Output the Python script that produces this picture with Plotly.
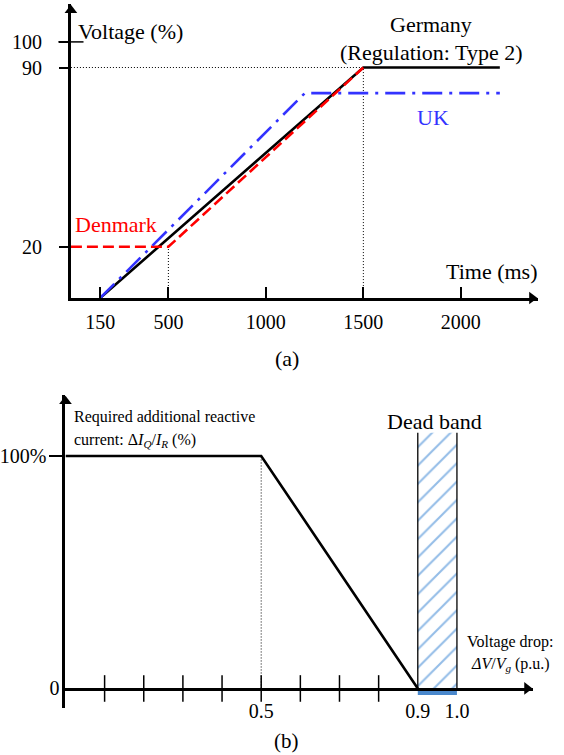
import plotly.graph_objects as go

W, H = 564, 755
FONT = "Liberation Serif"

# ---------- (a) voltage recovery profiles (time in ms, voltage in %) ----------
germany_t = [150, 1500, 2200]
germany_v = [0, 90, 90]
denmark_t = [0, 500, 1500]
denmark_v = [20, 20, 90]
uk_t = [150, 1200, 2200]
uk_v = [0, 80, 80]
time_ticks = [150, 500, 1000, 1500, 2000]
volt_ticks = [20, 90, 100]

# ---------- (b) reactive current requirement vs. voltage drop ----------
drop_pu = [0, 0.5, 0.9]
iq_pct = [100, 100, 0]
dead_band = [0.9, 1.0]
dead_band_top = 110
drop_ticks = [0.1, 0.2, 0.3, 0.4, 0.5, 0.6, 0.7, 0.8]
drop_labels = [0.5, 0.9, 1.0]

# axis extents (arrow tips) and their pixel boxes
A_X, A_XPX = [0, 2397], [66.5, 538]
A_Y, A_YPX = [0, 114.8], [298, 4]
B_X, B_XPX = [0, 1.195], [61, 533]
B_Y, B_YPX = [-8.4, 126.2], [708, 395]


def px(x):
    return x / W


def py(y):
    return 1 - y / H


def per_px(rng, pxs):
    return (rng[1] - rng[0]) / abs(pxs[1] - pxs[0])


HEAD = 11                           # arrowhead marker size
HEAD_RT = HEAD / 2 * 2 / 3 ** 0.5   # centre-to-tip distance of a plotly triangle

fig = go.Figure()

# --- panel (a) ---
fig.add_trace(go.Scatter(
    x=[0, germany_t[1], germany_t[1]], y=[germany_v[1], germany_v[1], 0],
    mode="lines", line=dict(color="black", width=1, dash="1px,2px"),
    xaxis="x", yaxis="y", hoverinfo="skip"))
fig.add_trace(go.Scatter(
    x=[denmark_t[1], denmark_t[1]], y=[0, denmark_v[1]],
    mode="lines", line=dict(color="black", width=1, dash="1px,2px"),
    xaxis="x", yaxis="y", hoverinfo="skip"))
fig.add_trace(go.Scatter(
    x=germany_t, y=germany_v, mode="lines", name="Germany",
    line=dict(color="black", width=2.6), xaxis="x", yaxis="y"))
fig.add_trace(go.Scatter(
    x=denmark_t, y=denmark_v, mode="lines", name="Denmark",
    line=dict(color="#ff0000", width=2.6, dash="11px,5px"), xaxis="x", yaxis="y"))
fig.add_trace(go.Scatter(
    x=uk_t, y=uk_v, mode="lines", name="UK",
    line=dict(color="#3333ff", width=2.6, dash="20px,7px,3px,7px"), xaxis="x", yaxis="y"))
# tick crossing the vertical axis at 100 %
fig.add_trace(go.Scatter(
    x=[0], y=[volt_ticks[-1]], mode="markers", cliponaxis=False,
    marker=dict(symbol="line-ew", size=18, line=dict(color="black", width=1.5)),
    xaxis="x", yaxis="y", hoverinfo="skip"))
# arrowheads of panel (a)
fig.add_trace(go.Scatter(
    x=[A_X[1] - HEAD_RT * per_px(A_X, A_XPX)], y=[0], mode="markers", cliponaxis=False,
    marker=dict(symbol="triangle-right", size=HEAD, color="black", line=dict(width=0)),
    xaxis="x", yaxis="y", hoverinfo="skip"))
fig.add_trace(go.Scatter(
    x=[0], y=[A_Y[1] - HEAD_RT * per_px(A_Y, A_YPX)], mode="markers", cliponaxis=False,
    marker=dict(symbol="triangle-up", size=HEAD, color="black", line=dict(width=0)),
    xaxis="x", yaxis="y", hoverinfo="skip"))

# --- panel (b) ---
fig.add_trace(go.Scatter(
    x=[dead_band[0], dead_band[1], dead_band[1], dead_band[0], dead_band[0]],
    y=[0, 0, dead_band_top, dead_band_top, 0],
    mode="lines", fill="toself", fillcolor="rgba(0,0,0,0)",
    line=dict(width=0),
    fillpattern=dict(shape="/", fgcolor="#2a7bd0", bgcolor="white", size=13, solidity=0.16),
    xaxis="x2", yaxis="y2", hoverinfo="skip"))
fig.add_trace(go.Scatter(
    x=[dead_band[0], dead_band[0], None, dead_band[1], dead_band[1]],
    y=[0, dead_band_top, None, 0, dead_band_top],
    mode="lines", line=dict(color="black", width=1.3),
    xaxis="x2", yaxis="y2", hoverinfo="skip"))
fig.add_trace(go.Scatter(
    x=dead_band, y=[-1.7, -1.7], mode="lines",
    line=dict(color="#4a88cc", width=5), xaxis="x2", yaxis="y2", hoverinfo="skip"))
fig.add_trace(go.Scatter(
    x=[drop_pu[1], drop_pu[1]], y=[0, iq_pct[1]],
    mode="lines", line=dict(color="black", width=1, dash="1px,2px"),
    xaxis="x2", yaxis="y2", hoverinfo="skip"))
fig.add_trace(go.Scatter(
    x=drop_pu, y=iq_pct, mode="lines",
    line=dict(color="black", width=2.6), xaxis="x2", yaxis="y2"))
fig.add_trace(go.Scatter(
    x=drop_ticks, y=[0] * len(drop_ticks), mode="markers", cliponaxis=False,
    marker=dict(symbol="line-ns", size=19, line=dict(color="black", width=1.5)),
    xaxis="x2", yaxis="y2", hoverinfo="skip"))
# arrowheads of panel (b)
fig.add_trace(go.Scatter(
    x=[B_X[1] - HEAD_RT * per_px(B_X, B_XPX)], y=[0], mode="markers", cliponaxis=False,
    marker=dict(symbol="triangle-right", size=HEAD, color="black", line=dict(width=0)),
    xaxis="x2", yaxis="y2", hoverinfo="skip"))
fig.add_trace(go.Scatter(
    x=[0], y=[B_Y[1] - HEAD_RT * per_px(B_Y, B_YPX)], mode="markers", cliponaxis=False,
    marker=dict(symbol="triangle-up", size=HEAD, color="black", line=dict(width=0)),
    xaxis="x2", yaxis="y2", hoverinfo="skip"))
# carrier for the "0" label axis
fig.add_trace(go.Scatter(
    x=[0], y=[0], mode="markers", marker=dict(opacity=0),
    xaxis="x2", yaxis="y3", hoverinfo="skip"))

axis_common = dict(showgrid=False, zeroline=False,
                   linecolor="black", linewidth=3,
                   tickfont=dict(family=FONT, size=20, color="black"),
                   tickcolor="black", tickwidth=1.5, fixedrange=True)

fig.update_layout(
    width=W, height=H,
    margin=dict(l=0, r=0, t=0, b=0),
    paper_bgcolor="white", plot_bgcolor="rgba(0,0,0,0)",
    showlegend=False,
    font=dict(family=FONT, color="black"),
    xaxis=dict(domain=[px(A_XPX[0]), px(A_XPX[1])], range=A_X, anchor="y", showline=True,
               tickvals=time_ticks, ticktext=[str(t) for t in time_ticks],
               ticks="inside", ticklen=11, ticklabelstandoff=4, **axis_common),
    yaxis=dict(domain=[py(A_YPX[0]), py(A_YPX[1])], range=A_Y, anchor="x", showline=True,
               tickvals=volt_ticks, ticktext=[str(v) for v in volt_ticks],
               ticks="outside", ticklen=9, ticklabelstandoff=13, **axis_common),
    xaxis2=dict(domain=[px(B_XPX[0]), px(B_XPX[1])], range=B_X, anchor="free",
                position=py(688.5), showline=True,
                tickvals=drop_labels, ticktext=[f"{v:.1f}" for v in drop_labels],
                ticks="", ticklabelstandoff=3, **axis_common),
    yaxis2=dict(domain=[py(B_YPX[0]), py(B_YPX[1])], range=B_Y, anchor="x2", showline=True,
                tickvals=[iq_pct[0]], ticktext=["100%"],
                ticks="outside", ticklen=13, ticklabelstandoff=-1, **axis_common),
    yaxis3=dict(domain=[py(B_YPX[0]), py(B_YPX[1])], range=B_Y, anchor="x2", overlaying="y2",
                side="left", showline=False, tickvals=[0], ticktext=["0"],
                ticks="", ticklabelstandoff=5, **axis_common),
)

ann = []


def label(text, x, y, size, xanchor="center", color="black"):
    ann.append(dict(text=text, x=px(x), y=py(y), xref="paper", yref="paper",
                    xanchor=xanchor, yanchor="middle", showarrow=False,
                    font=dict(family=FONT, size=size, color=color)))


label("Voltage (%)", 72, 32, 22, "left")
label("Germany", 430, 25, 22)
label("(Regulation: Type 2)", 430, 52, 22)
label("UK", 432, 117, 22, color="#3333ff")
label("Denmark", 69, 224, 22, "left", color="#ff0000")
label("Time (ms)", 539, 272, 22, "right")
label("(a)", 285, 358, 22)

label("Required additional reactive", 68, 417, 16, "left")
label("current: Δ<i>I<sub>Q</sub></i>/<i>I<sub>R</sub></i> (%)", 68, 440, 16, "left")
label("Dead band", 433, 422, 22)
label("Voltage drop:", 555, 642, 16, "right")
label("<i>ΔV</i>/<i>V<sub>g</sub></i> (p.u.)", 552, 664, 16, "right")
label("(b)", 284, 741, 21)

fig.update_layout(annotations=ann)

fig.write_html("out.html")
